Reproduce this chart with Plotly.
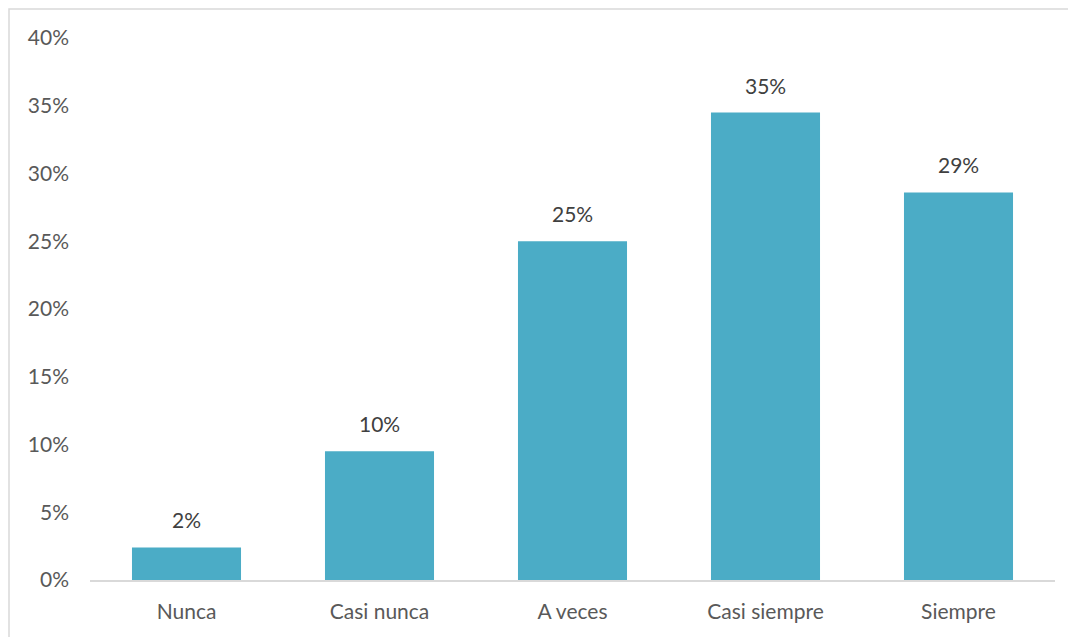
import plotly.graph_objects as go

categories = ["Nunca", "Casi nunca", "A veces", "Casi siempre", "Siempre"]
values = [2.4, 9.5, 25.0, 34.5, 28.6]
labels = ["2%", "10%", "25%", "35%", "29%"]
y_ticks = [0, 5, 10, 15, 20, 25, 30, 35, 40]
y_tick_text = [f"{t}%" for t in y_ticks]

FONT = "Lato, 'Open Sans', sans-serif"
FS = 21

fig = go.Figure(go.Bar(
    x=categories, y=values,
    marker=dict(color="#4BACC6", line=dict(width=0)),
    width=0.565,
))

for c, v, t in zip(categories, values, labels):
    fig.add_annotation(x=c, y=v, text=t, showarrow=False, yanchor="bottom",
                       yshift=13, font=dict(family=FONT, size=FS, color="#404040"))

# page body has an 8px offset, compensate in margins
L, T, PW, PH = 82, 30, 965, 542
fig.update_layout(
    width=1076, height=637,
    margin=dict(l=L, r=1076 - L - PW, t=T, b=637 - T - PH),
    paper_bgcolor="white", plot_bgcolor="white",
    showlegend=False,
    font=dict(family=FONT, size=FS, color="#595959"),
    xaxis=dict(showline=True, linecolor="#D9D9D9", linewidth=1.5, ticks="",
               ticklabelstandoff=12,
               tickfont=dict(size=FS, color="#595959"), showgrid=False),
    yaxis=dict(range=[0, 40], tickvals=y_ticks, ticktext=y_tick_text,
               showgrid=False, zeroline=False, showline=False, ticks="",
               ticklabelstandoff=20,
               tickfont=dict(size=FS, color="#595959")),
    shapes=[dict(type="rect", xref="paper", yref="paper",
                 x0=(1 - L) / PW, x1=(1100 - L) / PW,
                 y0=-0.3, y1=1 + (T - 1) / PH,
                 line=dict(color="#D9D9D9", width=1.5), fillcolor="rgba(0,0,0,0)",
                 layer="below")],
)

fig.write_html("out.html")
